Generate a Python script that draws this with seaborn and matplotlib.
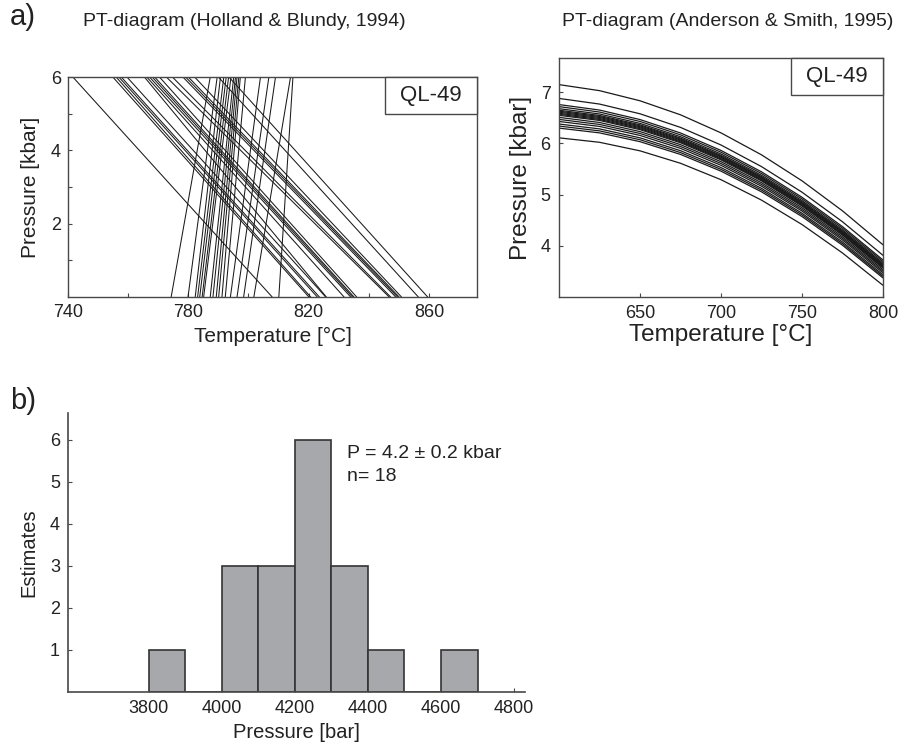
import matplotlib
matplotlib.use("Agg")
import numpy as np
import pandas as pd
import seaborn as sns
import matplotlib.pyplot as plt
from matplotlib.patches import Rectangle

# ---------------- data ----------------
# Holland & Blundy (1994): thermometer lines (steep), T at P=0 and P=6 kbar
hb_steep_T0 = [774.3, 779.9, 782.3, 783.1, 783.8, 784.6, 785.1, 787.3, 788.2,
               789.3, 790.1, 791.2, 792.3, 794.0, 796.2, 798.4, 801.8, 810.1]
hb_steep_T6 = [787.3, 789.6, 790.7, 791.8, 792.6, 793.4, 794.2, 795.1, 795.7,
               796.2, 796.8, 797.3, 799.0, 804.0, 806.8, 809.0, 814.0, 814.8]
# barometer-type lines (negative slope), T at P=6 and P=0 kbar
hb_neg_T6 = [741.6, 754.9, 756.0, 756.9, 757.7, 759.6, 765.4, 766.2, 767.1, 768.0,
             768.8, 770.4, 772.7, 774.7, 778.2, 779.1, 780.0, 782.1, 790.0, 793.5]
hb_neg_T0 = [807.9, 820.1, 820.7, 822.9, 823.6, 825.7, 825.9, 831.8, 834.0, 834.6,
             835.1, 836.0, 846.8, 847.3, 849.0, 849.6, 850.1, 850.9, 856.5, 859.6]

# Anderson & Smith (1995): pressure curves at temperature nodes
as_T = [600, 625, 650, 675, 700, 725, 750, 775, 800]
as_P = [
    [7.150, 7.032, 6.834, 6.560, 6.207, 5.778, 5.270, 4.683, 4.020],
    [6.880, 6.770, 6.580, 6.314, 5.970, 5.548, 5.048, 4.470, 3.814],
    [6.760, 6.653, 6.467, 6.205, 5.864, 5.446, 4.949, 4.375, 3.723],
    [6.720, 6.614, 6.430, 6.168, 5.829, 5.412, 4.917, 4.343, 3.693],
    [6.680, 6.576, 6.392, 6.132, 5.794, 5.378, 4.884, 4.311, 3.662],
    [6.650, 6.547, 6.364, 6.105, 5.767, 5.353, 4.859, 4.288, 3.639],
    [6.630, 6.527, 6.345, 6.086, 5.749, 5.336, 4.843, 4.272, 3.624],
    [6.610, 6.508, 6.326, 6.068, 5.732, 5.319, 4.826, 4.256, 3.609],
    [6.590, 6.488, 6.308, 6.050, 5.714, 5.302, 4.810, 4.240, 3.594],
    [6.570, 6.469, 6.289, 6.032, 5.697, 5.285, 4.793, 4.224, 3.578],
    [6.550, 6.450, 6.270, 6.014, 5.679, 5.268, 4.777, 4.209, 3.563],
    [6.510, 6.410, 6.232, 5.977, 5.644, 5.233, 4.744, 4.177, 3.533],
    [6.470, 6.372, 6.195, 5.941, 5.609, 5.199, 4.711, 4.145, 3.502],
    [6.430, 6.333, 6.157, 5.904, 5.573, 5.165, 4.679, 4.114, 3.472],
    [6.380, 6.285, 6.110, 5.859, 5.529, 5.123, 4.637, 4.074, 3.434],
    [6.340, 6.246, 6.073, 5.822, 5.494, 5.089, 4.605, 4.042, 3.403],
    [6.300, 6.207, 6.035, 5.786, 5.459, 5.055, 4.572, 4.011, 3.373],
    [6.110, 6.023, 5.856, 5.613, 5.292, 4.893, 4.416, 3.860, 3.228],
]

# histogram of pressure estimates
bin_left = [3800, 3900, 4000, 4100, 4200, 4300, 4400, 4500, 4600]
bin_count = [1, 0, 3, 3, 6, 3, 1, 0, 1]
bin_width = 100

left_xticks = [740, 760, 780, 800, 820, 840, 860]
left_xlabels = ["740", "", "780", "", "820", "", "860"]
left_yticks = [1, 2, 3, 4, 5, 6]
left_ylabels = ["", "2", "", "4", "", "6"]
right_xticks = [650, 700, 750, 800]
right_yticks = [4, 5, 6, 7]
hist_xticks = [3800, 4000, 4200, 4400, 4600, 4800]
hist_yticks = [1, 2, 3, 4, 5, 6]

# ---------------- build tables ----------------
rows = []
lid = 0
for t0, t6 in zip(hb_steep_T0, hb_steep_T6):
    rows += [(lid, t0, 0.0), (lid, t6, 6.0)]
    lid += 1
for t6, t0 in zip(hb_neg_T6, hb_neg_T0):
    rows += [(lid, t6, 6.0), (lid, t0, 0.0)]
    lid += 1
df_hb = pd.DataFrame(rows, columns=["line", "T", "P"])

rows = []
for i, curve in enumerate(as_P):
    for t, p in zip(as_T, curve):
        rows.append((i, t, p))
df_as = pd.DataFrame(rows, columns=["curve", "T", "P"])

df_hist = pd.DataFrame({"P": [b + bin_width / 2 for b in bin_left], "n": bin_count})
edges = bin_left + [bin_left[-1] + bin_width]

# ---------------- style ----------------
sns.set_theme(style="ticks")
plt.rcParams["font.family"] = ["Liberation Sans", "DejaVu Sans"]
TXT = "#222222"
SP = "#484848"
plt.rcParams.update({"text.color": TXT, "axes.labelcolor": TXT,
                     "xtick.color": SP, "ytick.color": SP,
                     "xtick.labelcolor": TXT, "ytick.labelcolor": TXT})

W, H = 898, 747
fig = plt.figure(figsize=(W / 100, H / 100), dpi=100)

def box(x0, y0, x1, y1):
    return [x0 / W, 1 - y1 / H, (x1 - x0) / W, (y1 - y0) / H]

ax1 = fig.add_axes(box(68, 77, 477, 297))
ax2 = fig.add_axes(box(559, 58, 883, 297))
ax3 = fig.add_axes(box(68.3, 413, 525, 692))

# ---- left panel ----
sns.lineplot(data=df_hb, x="T", y="P", units="line", estimator=None, sort=False,
             color="#1a1a1a", lw=0.75, ax=ax1, legend=False)
ax1.set_xlim(740, 876)
ax1.set_ylim(0, 6)
ax1.set_xticks(left_xticks, left_xlabels)
ax1.set_yticks(left_yticks, left_ylabels)
ax1.set_xlabel("Temperature [°C]", fontsize=15, labelpad=4)
ax1.set_ylabel("Pressure [kbar]", fontsize=15, labelpad=8)
ax1.tick_params(direction="in", length=3, width=0.8, labelsize=13, pad=5)

# ---- right panel ----
sns.lineplot(data=df_as, x="T", y="P", units="curve", estimator=None, sort=False,
             color="#1a1a1a", lw=0.9, ax=ax2, legend=False)
ax2.set_xlim(600, 800)
ax2.set_ylim(3.0, 7.67)
ax2.set_xticks(right_xticks)
ax2.set_yticks(right_yticks)
ax2.set_xlabel("Temperature [°C]", fontsize=17.5, labelpad=1)
ax2.set_ylabel("Pressure [kbar]", fontsize=17.5, labelpad=6)
ax2.tick_params(direction="in", length=3, width=0.8, labelsize=13, pad=6)

for ax in (ax1, ax2):
    for s in ax.spines.values():
        s.set_color(SP)
        s.set_linewidth(1.0)

# boxes around QL-49 labels
for (x0, y0, x1, y1) in ((385, 77, 477, 114), (790.7, 58, 883, 95)):
    fig.patches.append(Rectangle((x0 / W, 1 - y1 / H), (x1 - x0) / W, (y1 - y0) / H,
                                 transform=fig.transFigure, fill=True, facecolor="white",
                                 edgecolor=SP, lw=1.0, zorder=3))
fig.text((385 + 477) / 2 / W, 1 - 95.5 / H, "QL-49", ha="center", va="center",
         fontsize=16, color=TXT, zorder=6)
fig.text((790.7 + 883) / 2 / W, 1 - 76.5 / H, "QL-49", ha="center", va="center",
         fontsize=16, color=TXT, zorder=6)

# ---- histogram ----
sns.histplot(data=df_hist, x="P", weights="n", bins=edges, color="#a7a8ab",
             edgecolor="#333333", linewidth=1.2, alpha=1.0, ax=ax3)
ax3.set_xlim(3580, 4830)
ax3.set_ylim(0, 6.64)
ax3.set_xticks(hist_xticks)
ax3.set_yticks(hist_yticks)
ax3.set_xlabel("Pressure [bar]", fontsize=14.5, labelpad=4)
ax3.set_ylabel("Estimates", fontsize=14.5, labelpad=8)
ax3.tick_params(direction="in", length=3, width=0.8, labelsize=13, pad=6)
for side in ("top", "right"):
    ax3.spines[side].set_visible(False)
for side in ("left", "bottom"):
    ax3.spines[side].set_color(SP)
    ax3.spines[side].set_linewidth(1.2)
ax3.text(346.7 / W, 1 - 453 / H, "P = 4.2 ± 0.2 kbar", transform=fig.transFigure,
         fontsize=14, va="center", ha="left", color=TXT)
ax3.text(346.7 / W, 1 - 477 / H, "n= 18", transform=fig.transFigure,
         fontsize=14, va="center", ha="left", color=TXT)

# ---- titles & panel letters ----
fig.text(10 / W, 1 - 17 / H, "a)", fontsize=21, va="center", ha="left", color=TXT)
fig.text(10 / W, 1 - 401 / H, "b)", fontsize=21, va="center", ha="left", color=TXT)
fig.text(83 / W, 1 - 22 / H, "PT-diagram (Holland & Blundy, 1994)", fontsize=14,
         va="center", ha="left", color=TXT)
fig.text(893 / W, 1 - 22 / H, "PT-diagram (Anderson & Smith, 1995)", fontsize=14,
         va="center", ha="right", color=TXT)

fig.savefig("out.png", dpi=100)
